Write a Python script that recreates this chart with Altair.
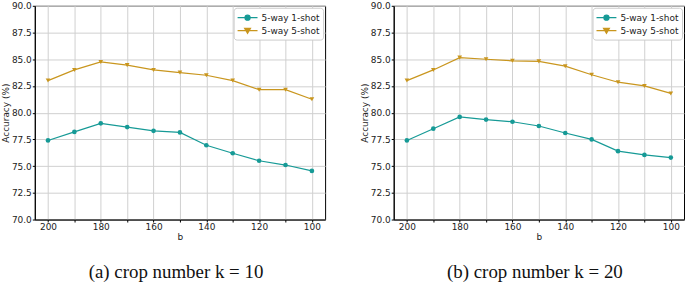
import altair as alt
import pandas as pd

b_values = [200, 190, 180, 170, 160, 150, 140, 130, 120, 110, 100]
series_names = ["5-way 1-shot", "5-way 5-shot"]

k10_one_shot = [77.4, 78.2, 79.0, 78.65, 78.3, 78.15, 76.95, 76.2, 75.5, 75.1, 74.55]
k10_five_shot = [83.0, 84.0, 84.75, 84.45, 84.0, 83.75, 83.5, 83.0, 82.15, 82.15, 81.25]
k20_one_shot = [77.4, 78.5, 79.6, 79.35, 79.15, 78.75, 78.1, 77.5, 76.4, 76.05, 75.8]
k20_five_shot = [83.0, 84.0, 85.15, 85.0, 84.85, 84.8, 84.35, 83.55, 82.85, 82.5, 81.8]

captions = ["(a) crop number k = 10", "(b) crop number k = 20"]
y_ticks = [70.0, 72.5, 75.0, 77.5, 80.0, 82.5, 85.0, 87.5, 90.0]

COLORS = ["#169a96", "#c9961e"]
# legend glyphs: a short line with the marker in its middle
CIRCLE = "M-1.67,0H1.67M0.42,0A0.42,0.42,0,1,1,-0.42,0A0.42,0.42,0,1,1,0.42,0Z"
TRIANGLE = "M-1.67,0H1.67M-0.48,-0.38L0.48,-0.38L0,0.45Z"


def make_df(one, five):
    rows = []
    for s, vals in zip(series_names, [one, five]):
        for b, v in zip(b_values, vals):
            rows.append({"b": b, "acc": v, "series": s})
    return pd.DataFrame(rows)


def panel(df, caption):
    x = alt.X(
        "b:Q",
        title="b",
        scale=alt.Scale(domain=[95, 205], reverse=True, nice=False, zero=False),
        axis=alt.Axis(
            values=b_values,
            labelExpr="datum.value % 20 == 0 ? datum.label : ''",
            grid=True,
        ),
    )
    y = alt.Y(
        "acc:Q",
        title="Accuracy (%)",
        scale=alt.Scale(domain=[70, 90], nice=False, zero=False),
        axis=alt.Axis(values=y_ticks, format=".1f", grid=True),
    )
    legend = alt.Legend(
        title=None,
        orient="top-right",
        offset=2,
        fillColor="white",
        strokeColor="#cccccc",
        cornerRadius=3,
        padding=3,
        rowPadding=-1,
        symbolSize=144,
        symbolOffset=4,
        symbolStrokeWidth=1.3,
        symbolOpacity=1,
        labelFont="DejaVu Sans",
        labelFontSize=9,
        labelColor="#222222",
        labelOffset=7,
    )
    color = alt.Color(
        "series:N", scale=alt.Scale(domain=series_names, range=COLORS), legend=legend
    )
    shape_legend = alt.Shape(
        "series:N",
        scale=alt.Scale(domain=series_names, range=[CIRCLE, TRIANGLE]),
        legend=legend,
    )
    base = alt.Chart(df)
    line = base.mark_line(strokeWidth=1.2).encode(x=x, y=y, color=color)
    pts1 = (
        base.transform_filter(alt.datum.series == series_names[0])
        .mark_point(filled=True, size=22, opacity=1, shape="circle")
        .encode(x=x, y=y, color=color)
    )
    pts2 = (
        base.transform_filter(alt.datum.series == series_names[1])
        .mark_point(filled=True, size=22, opacity=1, shape="triangle-down")
        .encode(x=x, y=y, color=color)
    )
    ghost = base.mark_point(filled=True, opacity=0, size=144, strokeWidth=1.3).encode(
        x=x, y=y, color=color, shape=shape_legend
    )
    return alt.layer(line, pts1, pts2, ghost).properties(
        width=292,
        height=215,
        title=alt.TitleParams(
            caption,
            orient="bottom",
            frame="group",
            anchor="middle",
            font="Liberation Serif",
            fontSize=19,
            fontWeight="normal",
            color="#111111",
            offset=21,
            dx=-4,
        ),
    )


left = panel(make_df(k10_one_shot, k10_five_shot), captions[0])
right = panel(make_df(k20_one_shot, k20_five_shot), captions[1])

chart = (
    alt.hconcat(left, right, spacing=33)
    .resolve_scale(color="independent", shape="independent")
    .properties(padding={"left": 0, "top": 0, "right": 0, "bottom": 0}, background="white")
    .configure_view(stroke="black", strokeWidth=1)
    .configure_axis(
        domainColor="black",
        tickColor="black",
        tickSize=2.5,
        labelFont="DejaVu Sans",
        labelFontSize=9,
        labelColor="#222222",
        titleFont="DejaVu Sans",
        titleFontSize=9,
        titleFontWeight="normal",
        titleColor="#222222",
        gridColor="#d0d0d0",
        gridWidth=1,
        labelPadding=1,
        titlePadding=1,
    )
)

chart.save("out.html", embed_options={"renderer": "svg", "actions": False})
